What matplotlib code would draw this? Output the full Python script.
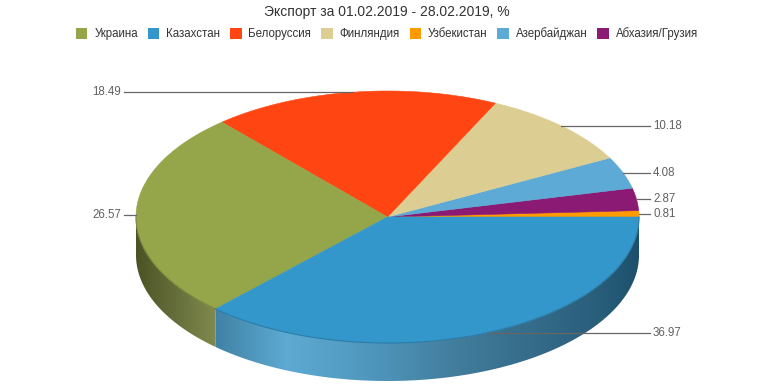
import numpy as np
import matplotlib
matplotlib.use('Agg')
import matplotlib.pyplot as plt
from matplotlib.patches import Polygon, Patch
from matplotlib.colors import to_rgb

plt.rcParams['font.family'] = ['Liberation Sans', 'DejaVu Sans']

title = 'Экспорт за 01.02.2019 - 28.02.2019, %'

# slices in drawing order, counter-clockwise from 3 o'clock
names = ['Узбекистан', 'Абхазия/Грузия', 'Азербайджан', 'Финляндия',
         'Белоруссия', 'Украина', 'Казахстан']
values = [0.81, 2.87, 4.08, 10.18, 18.49, 26.57, 36.97]
colors = ['#ff9a00', '#8a1a74', '#5eaad6', '#dccd92',
          '#ff4612', '#95a54a', '#3497cc']

legend_order = ['Украина', 'Казахстан', 'Белоруссия', 'Финляндия',
                'Узбекистан', 'Азербайджан', 'Абхазия/Грузия']

# geometry in pixels
W, H = 774, 387
cx, cy, rx, ry, depth = 387.5, 217, 251.5, 126, 38

fig = plt.figure(figsize=(W / 100, H / 100), dpi=100)
ax = fig.add_axes([0, 0, 1, 1])
ax.set_xlim(0, W)
ax.set_ylim(H, 0)
ax.axis('off')


def pt(theta):
    return cx + rx * np.cos(theta), cy - ry * np.sin(theta)


# side wall lighting: darken factor + white highlight across the width
light_x = [-1, -0.68, -0.4, -0.03, 0.25, 0.5, 0.85, 1]
dark_f = [0.5, 0.66, 0.77, 0.71, 0.6, 0.57, 0.535, 0.52]
white_h = [0.0, 0.12, 0.21, 0.16, 0.14, 0.1, 0.05, 0.0]


def side_color(c, tx):
    c = np.array(to_rgb(c))
    f = np.interp(tx, light_x, dark_f)
    h = np.interp(tx, light_x, white_h)
    return np.clip(c * f + h, 0, 1)


total = sum(values)
bounds = np.concatenate([[0], np.cumsum(values)]) / total * 2 * np.pi

# side walls (front half only), smooth horizontal gradient clipped to the wall
for i in range(len(values)):
    a0 = max(bounds[i], np.pi)
    a1 = min(bounds[i + 1], 2 * np.pi)
    if a1 <= a0:
        continue
    th = np.linspace(a0, a1, 300)
    xs, ys = pt(th)
    verts = list(zip(xs, ys)) + list(zip(xs[::-1], ys[::-1] + depth))
    wall = Polygon(verts, closed=True, facecolor='none', edgecolor='none')
    ax.add_patch(wall)
    gx = np.linspace(xs.min(), xs.max(), 400)
    grad = np.array([side_color(colors[i], (g - cx) / rx) for g in gx])[None, :, :]
    im = ax.imshow(grad, extent=(xs.min() - 1, xs.max() + 1, ys.max() + depth + 1, ys.min() - 1),
                   aspect='auto', interpolation='bilinear', zorder=1)
    im.set_clip_path(wall)
    ax.plot(xs, ys, color=np.array(to_rgb(colors[i])) * 0.82, lw=0.8, zorder=3)

# top face
for i in range(len(values)):
    th = np.linspace(bounds[i], bounds[i + 1], 200)
    xs, ys = pt(th)
    verts = [(cx, cy)] + list(zip(xs, ys))
    ax.add_patch(Polygon(verts, closed=True, facecolor=colors[i],
                         edgecolor=colors[i], lw=0.4, zorder=2))

ax.set_xlim(0, W)
ax.set_ylim(H, 0)

# data labels with connectors
for i, v in enumerate(values):
    mid = (bounds[i] + bounds[i + 1]) / 2
    px, py = pt(mid)
    if np.cos(mid) >= 0:
        ax.plot([px, 650], [py, py], color='#666666', lw=0.9, zorder=4)
        ax.text(653, py, f'{v:.2f}', ha='left', va='center',
                fontsize=8.3, color='#606060')
    else:
        ax.plot([px, 124], [py, py], color='#666666', lw=0.9, zorder=4)
        ax.text(121, py, f'{v:.2f}', ha='right', va='center',
                fontsize=8.3, color='#606060')

fig.text(0.5, 1 - 12 / H, title, ha='center', va='center',
         fontsize=10, color='#333333')

handles = [Patch(facecolor=colors[names.index(n)], edgecolor='none') for n in legend_order]
fig.legend(handles, legend_order, loc='center', bbox_to_anchor=(0.5, 1 - 34 / H),
           ncol=7, frameon=False, fontsize=8.3, handlelength=1.0, handleheight=1.0,
           handletextpad=0.6, columnspacing=0.85, labelcolor='#333333')

fig.savefig('out.png', dpi=100)
